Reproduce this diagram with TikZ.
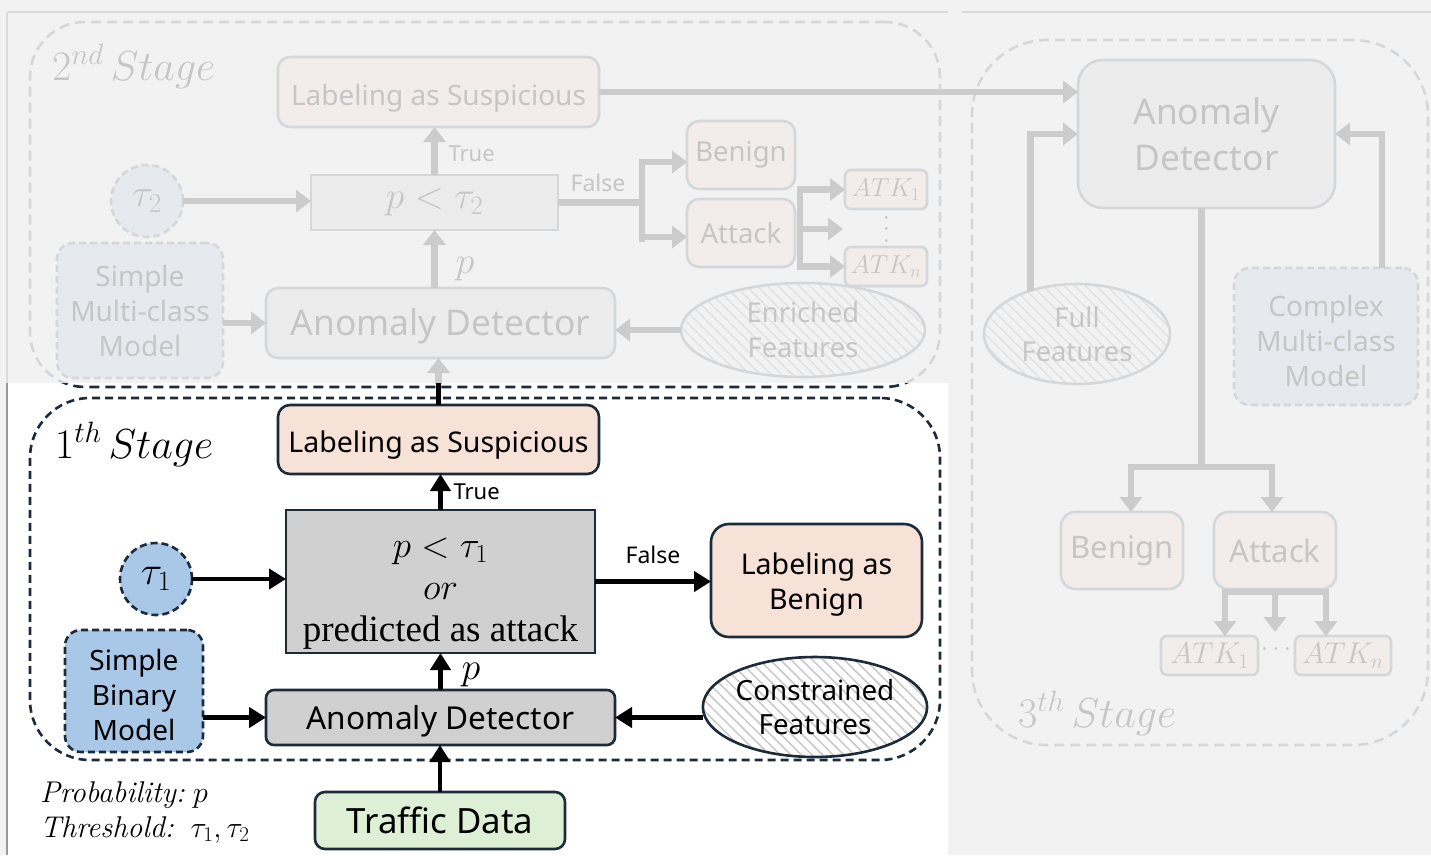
\RequirePackage{fix-cm}
\documentclass[tikz,border=0pt]{standalone}
\usepackage{fontspec}
\usetikzlibrary{arrows.meta,shapes.geometric,patterns.meta,calc}
\newfontfamily\nsans{Noto Sans}
\newfontfamily\tserif{Liberation Serif}
\newcommand{\fsz}[2]{\fontsize{#1}{#2}\selectfont}
\newcommand{\vdotsbig}{\rotatebox{90}{$\cdots$}}

\definecolor{ink}{HTML}{1C2B39}
\definecolor{peach}{HTML}{F6E2D7}
\definecolor{boxgray}{HTML}{D0D0D0}
\definecolor{skyfill}{HTML}{A9C7E7}
\definecolor{mint}{HTML}{DDF0D5}
\definecolor{canvas}{HTML}{F2F2F2}
\definecolor{fadeline}{HTML}{D5D8DB}
\definecolor{fadearrow}{HTML}{CCCCCC}
\definecolor{fadetext}{HTML}{C6C6C6}
\definecolor{fadepeach}{HTML}{F2EDEB}
\definecolor{fadegray}{HTML}{ECECEC}
\definecolor{fadesky}{HTML}{E6EAEE}
\definecolor{hatchdark}{HTML}{C8C8C8}
\definecolor{hatchfade}{HTML}{E2E2E2}
\definecolor{frameline}{HTML}{DADADA}

\tikzset{
  base/.style={inner sep=0pt, outer sep=0pt, align=center},
  % highlighted first stage
  solidbox/.style={base, draw=ink, line width=2.6pt, rounded corners=12pt, font=\nsans\fsz{28.5}{35}},
  dashedbox/.style={solidbox, fill=skyfill, dash pattern=on 7pt off 4pt, rounded corners=16pt},
  conn/.style={line width=4.6pt, -{Triangle[length=17pt,width=20pt]}},
  hatchdk/.style={preaction={fill=white}, pattern={Lines[angle=-45,distance=7.5pt,line width=1.5pt]}, pattern color=hatchdark},
  % faded later stages
  fadebox/.style={base, draw=fadeline, line width=2.6pt, rounded corners=12pt, text=fadetext, font=\nsans\fsz{28}{35}},
  fadedash/.style={fadebox, fill=fadesky, dash pattern=on 7pt off 4pt, rounded corners=16pt},
  fconn/.style={draw=fadearrow, line width=6.5pt, -{Triangle[length=15pt,width=22pt]}},
  fline/.style={draw=fadearrow, line width=6.5pt},
  hatchfd/.style={preaction={fill=canvas}, pattern={Lines[angle=-45,distance=7.5pt,line width=1.5pt]}, pattern color=hatchfade},
  stagebox/.style={base, line width=2.6pt, dash pattern=on 10pt off 6pt},
  flabel/.style={base, text=fadetext},
}

\begin{document}
\begin{tikzpicture}[x=1pt,y=-1pt]
\useasboundingbox (0,0) rectangle (1431,855);
\fill[canvas] (0,0) rectangle (1431,855);
\draw[frameline, line width=1.2pt] (8,12) -- (948,12);
\draw[frameline, line width=1.2pt] (962,12) -- (1431,12);
\draw[frameline, line width=1.2pt] (7,12) -- (7,383);

% ---------------- second stage (faded) ----------------
\node[stagebox, draw=fadeline, rounded corners=55pt, minimum width=910, minimum height=365] (stage2) at (485,204.5) {};
\node[flabel, anchor=base west, font=\fsz{42}{48}] (stage2lab) at (52,80) {$2^{nd}\,Stage$};

\node[fadebox, fill=fadepeach, minimum width=321, minimum height=70, text height=33pt, text depth=7pt] (sus2) at (438.5,92) {Labeling as Suspicious};
\node[fadebox, fill=fadegray, rounded corners=0pt, minimum width=247, minimum height=55, font=\fsz{38}{44}] (cond2) at (434.5,202.5) {$p<\tau_2$};
\node[fadedash, circle, minimum size=72, font=\fsz{39}{44}] (tau2) at (147,201) {$\tau_2$};
\node[fadebox, fill=fadepeach, minimum width=108, minimum height=68, font=\nsans\fsz{27.5}{33}] (ben2) at (741,155) {Benign};
\node[fadebox, fill=fadepeach, minimum width=108, minimum height=68, font=\nsans\fsz{27.5}{33}] (att2) at (741,233) {Attack};
\node[fadebox, fill=fadepeach, rounded corners=6pt, minimum width=82, minimum height=39, font=\fsz{26}{30}] (atk21) at (886,189.5) {$ATK_1$};
\node[fadebox, fill=fadepeach, rounded corners=6pt, minimum width=82, minimum height=39, font=\fsz{26}{30}] (atk2n) at (886,266.5) {$ATK_n$};
\node[flabel, font=\fsz{26}{30}] (vd2) at (887,229) {\vdotsbig};
\node[fadedash, minimum width=166, minimum height=135] (smm) at (140,310.5) {Simple\\Multi-class\\Model};
\node[fadebox, fill=fadegray, minimum width=349, minimum height=70, font=\nsans\fsz{35.4}{42}, text height=33pt, text depth=8.5pt] (ad2) at (440.5,323) {Anomaly Detector};
\node[fadebox, ellipse, hatchfd, minimum width=244, minimum height=94, font=\nsans\fsz{27.3}{35}] (ef) at (803,330) {Enriched\\Features};

\draw[fconn] (tau2) -- (tau2 -| cond2.west);
\draw[fconn] (cond2.north) -- (cond2.north |- sus2.south)
  node[flabel, pos=0.45, anchor=west, xshift=14pt, font=\nsans\fsz{22}{26}] (true2) {True};
\coordinate (b2) at ($(cond2.east)+(84,0)$);
\draw[fline] (cond2.east) -- (b2);
\draw[fline, line cap=rect] ($(b2)+(0,-40)$) -- ($(b2)+(0,36)$);
\draw[fconn] (b2) |- ($(ben2.west)+(0,7)$);
\draw[fconn] (b2) |- ($(att2.west)+(0,4)$);
\node[flabel, font=\nsans\fsz{23}{27}] (false2) at (598,183) {False};
\coordinate (a2m) at ($(att2.east)+(5,-4)$);
\draw[fline, line cap=rect] (a2m |- atk21) -- (a2m |- atk2n);
\draw[fconn] (a2m |- atk21) -- (atk21.west);
\coordinate (a2end) at ($(a2m)+(43,0)$);
\draw[fconn] (a2m) -- (a2end);
\draw[fconn] (a2m |- atk2n) -- (atk2n.west);
\draw[fconn] (smm.east |- ad2) -- (ad2.west);
\draw[fconn] (ad2.north -| cond2.south) -- (cond2.south)
  node[flabel, midway, anchor=west, xshift=21pt, yshift=-10pt, font=\fsz{38}{40}] (p2) {$p$};
\draw[fconn] (ef.west) -- (ef.west -| ad2.east);

% ---------------- third stage (faded) ----------------
\node[stagebox, draw=fadeline, rounded corners=75pt, minimum width=456, minimum height=705] (stage3) at (1200,392.5) {};
\node[flabel, anchor=base west, font=\fsz{42}{48}] (stage3lab) at (1018,727) {$3^{th}\,Stage$};

\node[fadebox, fill=fadegray, rounded corners=25pt, minimum width=257, minimum height=148, font=\nsans\fsz{35.4}{46}] (ad3) at (1206.5,134) {Anomaly\\Detector};
\node[fadebox, ellipse, hatchfd, minimum width=186, minimum height=100, font=\nsans\fsz{27.3}{34}] (ff) at (1077,334) {Full\\Features};
\node[fadedash, minimum width=184, minimum height=137] (cmm) at (1326,336.5) {\rule{0pt}{30pt}Complex\\Multi-class\\Model};
\node[fadebox, fill=fadepeach, rounded corners=14pt, minimum width=122, minimum height=77, font=\nsans\fsz{31}{36}] (ben3) at (1122,550.5) {Benign};
\node[fadebox, fill=fadepeach, rounded corners=14pt, minimum width=122, minimum height=77, font=\nsans\fsz{31}{36}] (att3) at (1275,550.5) {Attack};
\node[fadebox, fill=fadepeach, rounded corners=6pt, minimum width=97, minimum height=39, font=\fsz{30}{32}] (atk31) at (1209.5,655.5) {$ATK_1$};
\node[fadebox, fill=fadepeach, rounded corners=6pt, minimum width=96, minimum height=39, font=\fsz{30}{32}] (atk3n) at (1343,655.5) {$ATK_n$};
\node[flabel, font=\fsz{26}{28}] (hd3) at (1276,650) {$\cdots$};

\draw[fconn] (sus2.east) -- (sus2.east -| ad3.west);
\draw[fconn] (ff.137.5) |- (ad3.west);
\coordinate (cmmtop) at ($(cmm.north)+(56,0)$);
\draw[fconn] (cmmtop) |- (ad3.east);
\coordinate (br3) at ($(ad3.south)+(-5,259)$);
\draw[fline] (ad3.south -| br3) -- (br3);
\draw[fconn] (br3) -| ($(ben3.north)+(9,0)$);
\draw[fconn] (br3) -| ($(att3.north)+(-3,0)$);
\coordinate (a3l) at ($(att3.south)+(-50,3)$);
\coordinate (a3c) at ($(att3.south)+(0,3)$);
\coordinate (a3r) at ($(att3.south)+(51,3)$);
\draw[fline, line cap=rect] (a3l) -- (a3r);
\draw[fconn] (a3l) -- (a3l |- atk31.north);
\coordinate (a3end) at ($(a3c)+(0,40)$);
\draw[fconn] (a3c) -- (a3end);
\draw[fconn] (a3r) -- (a3r |- atk3n.north);

% ---------------- highlighted panel ----------------
\fill[white] (8,383) rectangle (948,855);
\draw[color=black!40, line width=1.5pt] (7,383) -- (7,855);
\begin{scope}
  \clip (8,383) rectangle (948,855);
  \node[stagebox, draw=ink, rounded corners=55pt, minimum width=910, minimum height=365] (stage2hl) at (485,204.5) {};
\end{scope}

% ---------------- first stage ----------------
\node[stagebox, draw=ink, dash pattern=on 8pt off 5pt, rounded corners=60pt, minimum width=910, minimum height=362] (stage1) at (485,579) {};
\node[base, anchor=base west, font=\fsz{42}{48}] (stage1lab) at (55,458) {$1^{th}\,Stage$};

\node[solidbox, fill=peach, minimum width=321, minimum height=69, text height=33pt, text depth=7pt] (sus1) at (438.5,439.5) {Labeling as Suspicious};
\node[solidbox, fill=boxgray, rounded corners=0pt, minimum width=309, minimum height=143] (cond1) at (440.5,581.5) {};
\node[base, font=\fsz{37}{42}] (cond1txt) at ($(cond1)+(0,12)$)
  {$p<\tau_1$\\ $or$\\ {\tserif\fsz{37}{42}predicted as attack}};
\node[dashedbox, circle, minimum size=72, font=\fsz{40}{44}] (tau1) at (156,579) {$\tau_1$};
\node[dashedbox, minimum width=138, minimum height=122, font=\nsans\fsz{28}{35}] (sbm) at (134,691) {\rule{0pt}{30pt}Simple\\Binary\\Model};
\node[solidbox, fill=boxgray, rounded corners=8pt, minimum width=349, minimum height=55, font=\nsans\fsz{31.6}{38}, text height=32pt, text depth=7.6pt] (ad1) at (440.5,717.5) {Anomaly Detector};
\node[solidbox, fill=peach, rounded corners=18pt, minimum width=211, minimum height=113] (ben1) at (816.5,580.5) {\rule{0pt}{30pt}Labeling as\\Benign};
\node[solidbox, ellipse, hatchdk, minimum width=216, minimum height=100, font=\nsans\fsz{27.8}{34}] (cf) at (815,707) {Constrained\\Features};
\node[solidbox, fill=mint, rounded corners=10pt, minimum width=250, minimum height=57, font=\nsans\fsz{34.8}{40}] (td) at (440,820.5) {Traffic Data};

\draw[conn] (tau1) -- (tau1 -| cond1.west);
\draw[conn] (sbm.east |- ad1) -- (ad1.west);
\draw[conn] (ad1.north) -- (cond1.south)
  node[base, midway, anchor=west, xshift=21pt, yshift=-3pt, font=\fsz{38}{40}] (p1) {$p$};
\draw[conn] (cond1.north) -- (cond1.north |- sus1.south)
  node[base, midway, anchor=west, xshift=13pt, font=\nsans\fsz{22}{26}] (true1) {True};
\draw[conn] (cond1.east) -- (cond1.east -| ben1.west)
  node[base, midway, above, yshift=18pt, font=\nsans\fsz{23}{27}] (false1) {False};
\draw[conn] (cf.west |- ad1) -- (ad1.east);
\draw[conn] (td.north) -- (td.north |- ad1.south);

% link from the first stage up into the second
\begin{scope}
  \clip (0,0) rectangle (1431,383);
  \draw[fconn] (sus1.north) -- (sus1.north |- ad2.south);
\end{scope}
\begin{scope}
  \clip (8,383) rectangle (948,855);
  \draw[line width=4.6pt] (sus1.north) -- (sus1.north |- ad2.south);
\end{scope}

% legend
\node[base, anchor=base west, font=\fsz{30}{34}] (leg1) at (40,802) {\textit{Probability:}\;$p$};
\node[base, anchor=base west, font=\fsz{30}{34}] (leg2) at (40,837) {\textit{Threshold:}\;\;$\tau_1,\tau_2$};
\end{tikzpicture}
\end{document}
